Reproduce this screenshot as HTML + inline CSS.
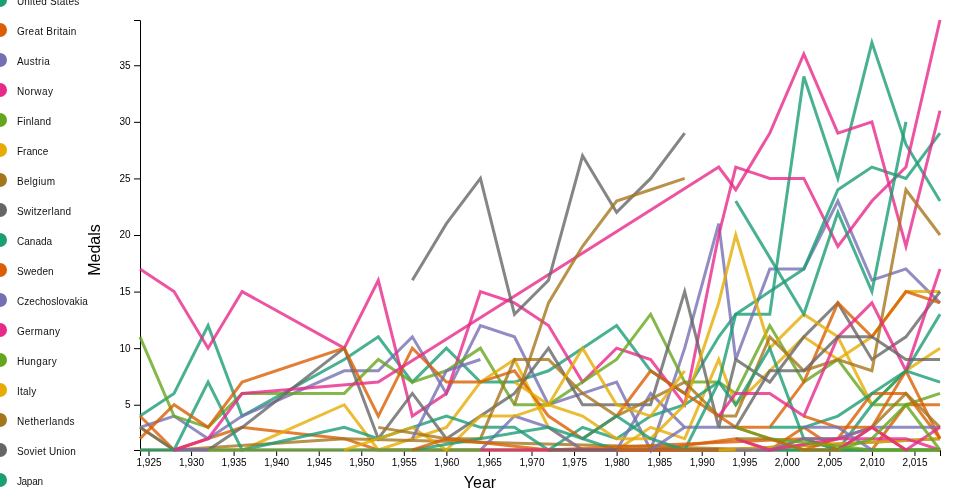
<!DOCTYPE html>
<html><head><meta charset="utf-8"><title>Winter Olympic Medals</title>
<style>
html,body{margin:0;padding:0;background:#fff;}
body{width:960px;height:500px;overflow:hidden;font-family:"Liberation Sans", sans-serif;}
svg{display:block;will-change:transform;}
</style></head><body>
<svg width="960" height="500" viewBox="0 0 960 500">
<g font-size="10" font-family='"Liberation Sans", sans-serif' fill="none" text-anchor="middle">
<path stroke="#000" d="M140.5,456V450.5H940.5V456"/>
<line stroke="#000" x1="149.011" x2="149.011" y1="450.5" y2="456"/>
<text fill="#000" x="149.011" y="465.9">1,925</text>
<line stroke="#000" x1="191.564" x2="191.564" y1="450.5" y2="456"/>
<text fill="#000" x="191.564" y="465.9">1,930</text>
<line stroke="#000" x1="234.117" x2="234.117" y1="450.5" y2="456"/>
<text fill="#000" x="234.117" y="465.9">1,935</text>
<line stroke="#000" x1="276.67" x2="276.67" y1="450.5" y2="456"/>
<text fill="#000" x="276.67" y="465.9">1,940</text>
<line stroke="#000" x1="319.223" x2="319.223" y1="450.5" y2="456"/>
<text fill="#000" x="319.223" y="465.9">1,945</text>
<line stroke="#000" x1="361.777" x2="361.777" y1="450.5" y2="456"/>
<text fill="#000" x="361.777" y="465.9">1,950</text>
<line stroke="#000" x1="404.33" x2="404.33" y1="450.5" y2="456"/>
<text fill="#000" x="404.33" y="465.9">1,955</text>
<line stroke="#000" x1="446.883" x2="446.883" y1="450.5" y2="456"/>
<text fill="#000" x="446.883" y="465.9">1,960</text>
<line stroke="#000" x1="489.436" x2="489.436" y1="450.5" y2="456"/>
<text fill="#000" x="489.436" y="465.9">1,965</text>
<line stroke="#000" x1="531.989" x2="531.989" y1="450.5" y2="456"/>
<text fill="#000" x="531.989" y="465.9">1,970</text>
<line stroke="#000" x1="574.543" x2="574.543" y1="450.5" y2="456"/>
<text fill="#000" x="574.543" y="465.9">1,975</text>
<line stroke="#000" x1="617.096" x2="617.096" y1="450.5" y2="456"/>
<text fill="#000" x="617.096" y="465.9">1,980</text>
<line stroke="#000" x1="659.649" x2="659.649" y1="450.5" y2="456"/>
<text fill="#000" x="659.649" y="465.9">1,985</text>
<line stroke="#000" x1="702.202" x2="702.202" y1="450.5" y2="456"/>
<text fill="#000" x="702.202" y="465.9">1,990</text>
<line stroke="#000" x1="744.755" x2="744.755" y1="450.5" y2="456"/>
<text fill="#000" x="744.755" y="465.9">1,995</text>
<line stroke="#000" x1="787.309" x2="787.309" y1="450.5" y2="456"/>
<text fill="#000" x="787.309" y="465.9">2,000</text>
<line stroke="#000" x1="829.862" x2="829.862" y1="450.5" y2="456"/>
<text fill="#000" x="829.862" y="465.9">2,005</text>
<line stroke="#000" x1="872.415" x2="872.415" y1="450.5" y2="456"/>
<text fill="#000" x="872.415" y="465.9">2,010</text>
<line stroke="#000" x1="914.968" x2="914.968" y1="450.5" y2="456"/>
<text fill="#000" x="914.968" y="465.9">2,015</text>
</g>
<g font-size="10" font-family='"Liberation Sans", sans-serif' fill="none" text-anchor="end">
<path stroke="#000" d="M134,450.5H140.5V20.5H134"/>
<line stroke="#000" x1="134" x2="140.5" y1="405.237" y2="405.237"/>
<text fill="#000" x="130.5" y="408.137">5</text>
<line stroke="#000" x1="134" x2="140.5" y1="348.658" y2="348.658"/>
<text fill="#000" x="130.5" y="351.558">10</text>
<line stroke="#000" x1="134" x2="140.5" y1="292.079" y2="292.079"/>
<text fill="#000" x="130.5" y="294.979">15</text>
<line stroke="#000" x1="134" x2="140.5" y1="235.5" y2="235.5"/>
<text fill="#000" x="130.5" y="238.4">20</text>
<line stroke="#000" x1="134" x2="140.5" y1="178.921" y2="178.921"/>
<text fill="#000" x="130.5" y="181.821">25</text>
<line stroke="#000" x1="134" x2="140.5" y1="122.342" y2="122.342"/>
<text fill="#000" x="130.5" y="125.242">30</text>
<line stroke="#000" x1="134" x2="140.5" y1="65.763" y2="65.763"/>
<text fill="#000" x="130.5" y="68.663">35</text>
</g>
<path fill="none" stroke="#1b9e77" stroke-width="3" stroke-opacity="0.8" d="M140,416.053L174.043,393.421L208.085,325.526L242.128,416.053L344.255,359.474L378.298,336.842L412.34,382.105L446.383,348.158L480.426,382.105L514.468,382.105L548.511,370.789L582.553,348.158L616.596,325.526L650.638,370.789L684.681,393.421L718.723,336.842L735.745,314.211L769.787,314.211L803.83,76.579L837.872,178.421L871.915,42.632L905.957,144.474L940,201.053"/>
<path fill="none" stroke="#d95f02" stroke-width="3" stroke-opacity="0.8" d="M140,416.053L174.043,450L242.128,427.368L344.255,438.684L378.298,450L480.426,450L582.553,450L616.596,450L650.638,450L735.745,438.684L769.787,450L803.83,438.684L837.872,450L871.915,450L905.957,404.737L940,404.737"/>
<path fill="none" stroke="#7570b3" stroke-width="3" stroke-opacity="0.8" d="M140,427.368L174.043,416.053L208.085,438.684L242.128,416.053L344.255,370.789L378.298,370.789L412.34,336.842L446.383,393.421L480.426,325.526L514.468,336.842L548.511,404.737L582.553,393.421L616.596,382.105L650.638,450L684.681,348.158L718.723,223.684L735.745,359.474L769.787,268.947L803.83,268.947L837.872,201.053L871.915,280.263L905.957,268.947L940,302.895"/>
<path fill="none" stroke="#e7298a" stroke-width="3" stroke-opacity="0.8" d="M140,268.947L174.043,291.579L208.085,348.158L242.128,291.579L344.255,348.158L378.298,280.263L412.34,416.053L446.383,393.421L480.426,291.579L514.468,302.895L548.511,325.526L582.553,382.105L616.596,348.158L650.638,359.474L684.681,404.737L718.723,235L735.745,167.105L769.787,178.421L803.83,178.421L837.872,246.316L871.915,201.053L905.957,167.105L940,20"/>
<path fill="none" stroke="#66a61e" stroke-width="3" stroke-opacity="0.8" d="M140,336.842L174.043,416.053L208.085,427.368L242.128,393.421L344.255,393.421L378.298,359.474L412.34,382.105L446.383,370.789L480.426,348.158L514.468,404.737L548.511,404.737L582.553,382.105L616.596,359.474L650.638,314.211L684.681,382.105L718.723,382.105L735.745,393.421L769.787,325.526L803.83,382.105L837.872,359.474L871.915,404.737L905.957,404.737L940,393.421"/>
<path fill="none" stroke="#e6ab02" stroke-width="3" stroke-opacity="0.8" d="M140,427.368L174.043,450L208.085,450L242.128,450L344.255,404.737L378.298,450L446.383,427.368L480.426,382.105L514.468,359.474L548.511,427.368L582.553,450L616.596,450L650.638,427.368L684.681,438.684L718.723,359.474L735.745,404.737L769.787,370.789L803.83,336.842L837.872,359.474L871.915,336.842L905.957,291.579L940,291.579"/>
<path fill="none" stroke="#a6761d" stroke-width="3" stroke-opacity="0.8" d="M140,450L174.043,450L344.255,438.684L769.787,450L940,450"/>
<path fill="none" stroke="#666666" stroke-width="3" stroke-opacity="0.8" d="M140,427.368L174.043,450L208.085,450L242.128,427.368L344.255,348.158L378.298,438.684L412.34,393.421L446.383,438.684L514.468,393.421L548.511,348.158L582.553,404.737L616.596,404.737L650.638,404.737L684.681,291.579L718.723,427.368L735.745,359.474L769.787,382.105L803.83,336.842L837.872,302.895L871.915,359.474L905.957,336.842L940,291.579"/>
<path fill="none" stroke="#1b9e77" stroke-width="3" stroke-opacity="0.8" d="M140,450L174.043,450L208.085,382.105L242.128,450L344.255,427.368L378.298,438.684L412.34,427.368L446.383,416.053L480.426,427.368L514.468,427.368L548.511,450L582.553,427.368L616.596,438.684L650.638,416.053L684.681,404.737L718.723,382.105L735.745,314.211L769.787,291.579L803.83,268.947L837.872,189.737L871.915,167.105L905.957,178.421L940,133.158"/>
<path fill="none" stroke="#d95f02" stroke-width="3" stroke-opacity="0.8" d="M140,438.684L174.043,404.737L208.085,427.368L242.128,382.105L344.255,348.158L378.298,416.053L412.34,348.158L446.383,382.105L480.426,382.105L514.468,370.789L548.511,416.053L582.553,438.684L616.596,416.053L650.638,370.789L684.681,393.421L718.723,416.053L735.745,427.368L769.787,427.368L803.83,382.105L837.872,302.895L871.915,336.842L905.957,291.579L940,302.895"/>
<path fill="none" stroke="#7570b3" stroke-width="3" stroke-opacity="0.8" d="M174.043,450L208.085,450L344.255,450L446.383,450L480.426,450L514.468,416.053L548.511,427.368L582.553,450L616.596,450L650.638,393.421L684.681,427.368L718.723,427.368"/>
<path fill="none" stroke="#e7298a" stroke-width="3" stroke-opacity="0.8" d="M174.043,450L208.085,438.684L242.128,393.421L378.298,382.105L718.723,167.105L735.745,189.737L769.787,133.158L803.83,53.947L837.872,133.158L871.915,121.842L905.957,246.316L940,110.526"/>
<path fill="none" stroke="#66a61e" stroke-width="3" stroke-opacity="0.8" d="M208.085,450L242.128,450L344.255,450L378.298,450L412.34,450L616.596,450L940,450"/>
<path fill="none" stroke="#e6ab02" stroke-width="3" stroke-opacity="0.8" d="M344.255,450L378.298,438.684L412.34,427.368L446.383,450L480.426,416.053L514.468,416.053L548.511,404.737L582.553,416.053L616.596,438.684L650.638,438.684L684.681,404.737L718.723,302.895L735.745,235L769.787,348.158L803.83,314.211L837.872,336.842L871.915,404.737L905.957,370.789L940,348.158"/>
<path fill="none" stroke="#a6761d" stroke-width="3" stroke-opacity="0.8" d="M378.298,427.368L446.383,438.684L480.426,438.684L514.468,359.474L548.511,359.474L582.553,393.421L616.596,416.053L684.681,382.105L718.723,416.053L735.745,416.053L769.787,336.842L803.83,370.789L837.872,359.474L871.915,370.789L905.957,189.737L940,235"/>
<path fill="none" stroke="#666666" stroke-width="3" stroke-opacity="0.8" d="M412.34,280.263L446.383,223.684L480.426,178.421L514.468,314.211L548.511,280.263L582.553,155.789L616.596,212.368L650.638,178.421L684.681,133.158"/>
<path fill="none" stroke="#1b9e77" stroke-width="3" stroke-opacity="0.8" d="M412.34,450L548.511,427.368L616.596,450L650.638,450L684.681,450L718.723,382.105L735.745,404.737L769.787,348.158L803.83,438.684L837.872,450L871.915,404.737L905.957,370.789L940,314.211"/>
<path fill="none" stroke="#d95f02" stroke-width="3" stroke-opacity="0.8" d="M412.34,450L446.383,438.684L548.511,450L803.83,438.684L837.872,438.684L871.915,393.421L905.957,393.421L940,438.684"/>
<path fill="none" stroke="#7570b3" stroke-width="3" stroke-opacity="0.8" d="M412.34,438.684L446.383,370.789L480.426,359.474"/>
<path fill="none" stroke="#e7298a" stroke-width="3" stroke-opacity="0.8" d="M480.426,450L718.723,450"/>
<path fill="none" stroke="#e6ab02" stroke-width="3" stroke-opacity="0.8" d="M514.468,382.105L548.511,404.737L582.553,348.158L616.596,404.737L650.638,416.053L684.681,370.789"/>
<path fill="none" stroke="#a6761d" stroke-width="3" stroke-opacity="0.8" d="M514.468,404.737L548.511,302.895L582.553,246.316L616.596,201.053L650.638,189.737L684.681,178.421"/>
<path fill="none" stroke="#666666" stroke-width="3" stroke-opacity="0.8" d="M548.511,450L718.723,450L940,438.684"/>
<path fill="none" stroke="#1b9e77" stroke-width="3" stroke-opacity="0.8" d="M582.553,438.684L616.596,416.053L650.638,438.684L684.681,450L940,450"/>
<path fill="none" stroke="#d95f02" stroke-width="3" stroke-opacity="0.8" d="M616.596,450L769.787,450L803.83,427.368L837.872,450"/>
<path fill="none" stroke="#7570b3" stroke-width="3" stroke-opacity="0.8" d="M650.638,450L684.681,427.368"/>
<path fill="none" stroke="#e7298a" stroke-width="3" stroke-opacity="0.8" d="M718.723,416.053L735.745,393.421L769.787,393.421L803.83,416.053L837.872,336.842L871.915,302.895L905.957,370.789L940,268.947"/>
<path fill="none" stroke="#e6ab02" stroke-width="3" stroke-opacity="0.8" d="M718.723,450L940,438.684"/>
<path fill="none" stroke="#666666" stroke-width="3" stroke-opacity="0.8" d="M718.723,427.368L735.745,427.368L769.787,370.789L803.83,370.789L837.872,336.842L871.915,336.842L905.957,359.474L940,359.474"/>
<path fill="none" stroke="#1b9e77" stroke-width="3" stroke-opacity="0.8" d="M735.745,201.053L769.787,257.632L803.83,314.211L837.872,212.368L871.915,291.579L905.957,121.842"/>
<path fill="none" stroke="#d95f02" stroke-width="3" stroke-opacity="0.8" d="M735.745,427.368L803.83,450L871.915,427.368L905.957,370.789L940,438.684"/>
<path fill="none" stroke="#7570b3" stroke-width="3" stroke-opacity="0.8" d="M735.745,450L769.787,450L803.83,438.684L837.872,438.684L871.915,427.368L905.957,427.368L940,427.368"/>
<path fill="none" stroke="#e7298a" stroke-width="3" stroke-opacity="0.8" d="M735.745,438.684L769.787,450L837.872,438.684L905.957,438.684L940,450"/>
<path fill="none" stroke="#66a61e" stroke-width="3" stroke-opacity="0.8" d="M735.745,427.368L769.787,438.684L871.915,450L905.957,450L940,450"/>
<path fill="none" stroke="#a6761d" stroke-width="3" stroke-opacity="0.8" d="M735.745,438.684L769.787,438.684L803.83,450L837.872,450L871.915,427.368L905.957,393.421L940,427.368"/>
<path fill="none" stroke="#1b9e77" stroke-width="3" stroke-opacity="0.8" d="M769.787,427.368L803.83,427.368L837.872,416.053L871.915,393.421L905.957,370.789L940,382.105"/>
<path fill="none" stroke="#d95f02" stroke-width="3" stroke-opacity="0.8" d="M803.83,416.053L837.872,427.368L871.915,427.368L905.957,450"/>
<path fill="none" stroke="#7570b3" stroke-width="3" stroke-opacity="0.8" d="M803.83,427.368L837.872,427.368L871.915,450"/>
<path fill="none" stroke="#e7298a" stroke-width="3" stroke-opacity="0.8" d="M837.872,450L871.915,427.368L905.957,450L940,427.368"/>
<path fill="none" stroke="#66a61e" stroke-width="3" stroke-opacity="0.8" d="M837.872,450L871.915,438.684L905.957,404.737L940,450"/>
<text x="480" y="488" font-size="16" text-anchor="middle" font-family='"Liberation Sans", sans-serif' fill="#000">Year</text>
<text transform="translate(100.3,250) rotate(-90)" font-size="16" text-anchor="middle" font-family='"Liberation Sans", sans-serif' fill="#000">Medals</text>
<circle cx="0" cy="0" r="7" fill="#1b9e77"/>
<text x="16.9" y="5" font-size="10" font-family='"Liberation Sans", sans-serif' fill="#111" textLength="62.34" lengthAdjust="spacing">United States</text>
<circle cx="0" cy="30" r="7" fill="#d95f02"/>
<text x="16.9" y="35" font-size="10" font-family='"Liberation Sans", sans-serif' fill="#111" textLength="59.51" lengthAdjust="spacing">Great Britain</text>
<circle cx="0" cy="60" r="7" fill="#7570b3"/>
<text x="16.9" y="65" font-size="10" font-family='"Liberation Sans", sans-serif' fill="#111" textLength="32.94" lengthAdjust="spacing">Austria</text>
<circle cx="0" cy="90" r="7" fill="#e7298a"/>
<text x="16.9" y="95" font-size="10" font-family='"Liberation Sans", sans-serif' fill="#111" textLength="36.08" lengthAdjust="spacing">Norway</text>
<circle cx="0" cy="120" r="7" fill="#66a61e"/>
<text x="16.9" y="125" font-size="10" font-family='"Liberation Sans", sans-serif' fill="#111" textLength="34.18" lengthAdjust="spacing">Finland</text>
<circle cx="0" cy="150" r="7" fill="#e6ab02"/>
<text x="16.9" y="155" font-size="10" font-family='"Liberation Sans", sans-serif' fill="#111" textLength="31.31" lengthAdjust="spacing">France</text>
<circle cx="0" cy="180" r="7" fill="#a6761d"/>
<text x="16.9" y="185" font-size="10" font-family='"Liberation Sans", sans-serif' fill="#111" textLength="38.07" lengthAdjust="spacing">Belgium</text>
<circle cx="0" cy="210" r="7" fill="#666666"/>
<text x="16.9" y="215" font-size="10" font-family='"Liberation Sans", sans-serif' fill="#111" textLength="54.15" lengthAdjust="spacing">Switzerland</text>
<circle cx="0" cy="240" r="7" fill="#1b9e77"/>
<text x="16.9" y="245" font-size="10" font-family='"Liberation Sans", sans-serif' fill="#111" textLength="35.26" lengthAdjust="spacing">Canada</text>
<circle cx="0" cy="270" r="7" fill="#d95f02"/>
<text x="16.9" y="275" font-size="10" font-family='"Liberation Sans", sans-serif' fill="#111" textLength="36.75" lengthAdjust="spacing">Sweden</text>
<circle cx="0" cy="300" r="7" fill="#7570b3"/>
<text x="16.9" y="305" font-size="10" font-family='"Liberation Sans", sans-serif' fill="#111" textLength="70.88" lengthAdjust="spacing">Czechoslovakia</text>
<circle cx="0" cy="330" r="7" fill="#e7298a"/>
<text x="16.9" y="335" font-size="10" font-family='"Liberation Sans", sans-serif' fill="#111" textLength="42.99" lengthAdjust="spacing">Germany</text>
<circle cx="0" cy="360" r="7" fill="#66a61e"/>
<text x="16.9" y="365" font-size="10" font-family='"Liberation Sans", sans-serif' fill="#111" textLength="39.79" lengthAdjust="spacing">Hungary</text>
<circle cx="0" cy="390" r="7" fill="#e6ab02"/>
<text x="16.9" y="395" font-size="10" font-family='"Liberation Sans", sans-serif' fill="#111" textLength="19.43" lengthAdjust="spacing">Italy</text>
<circle cx="0" cy="420" r="7" fill="#a6761d"/>
<text x="16.9" y="425" font-size="10" font-family='"Liberation Sans", sans-serif' fill="#111" textLength="57.70" lengthAdjust="spacing">Netherlands</text>
<circle cx="0" cy="450" r="7" fill="#666666"/>
<text x="16.9" y="455" font-size="10" font-family='"Liberation Sans", sans-serif' fill="#111" textLength="58.97" lengthAdjust="spacing">Soviet Union</text>
<circle cx="0" cy="480" r="7" fill="#1b9e77"/>
<text x="16.9" y="485" font-size="10" font-family='"Liberation Sans", sans-serif' fill="#111" textLength="26.06" lengthAdjust="spacing">Japan</text>
</svg>
</body></html>
